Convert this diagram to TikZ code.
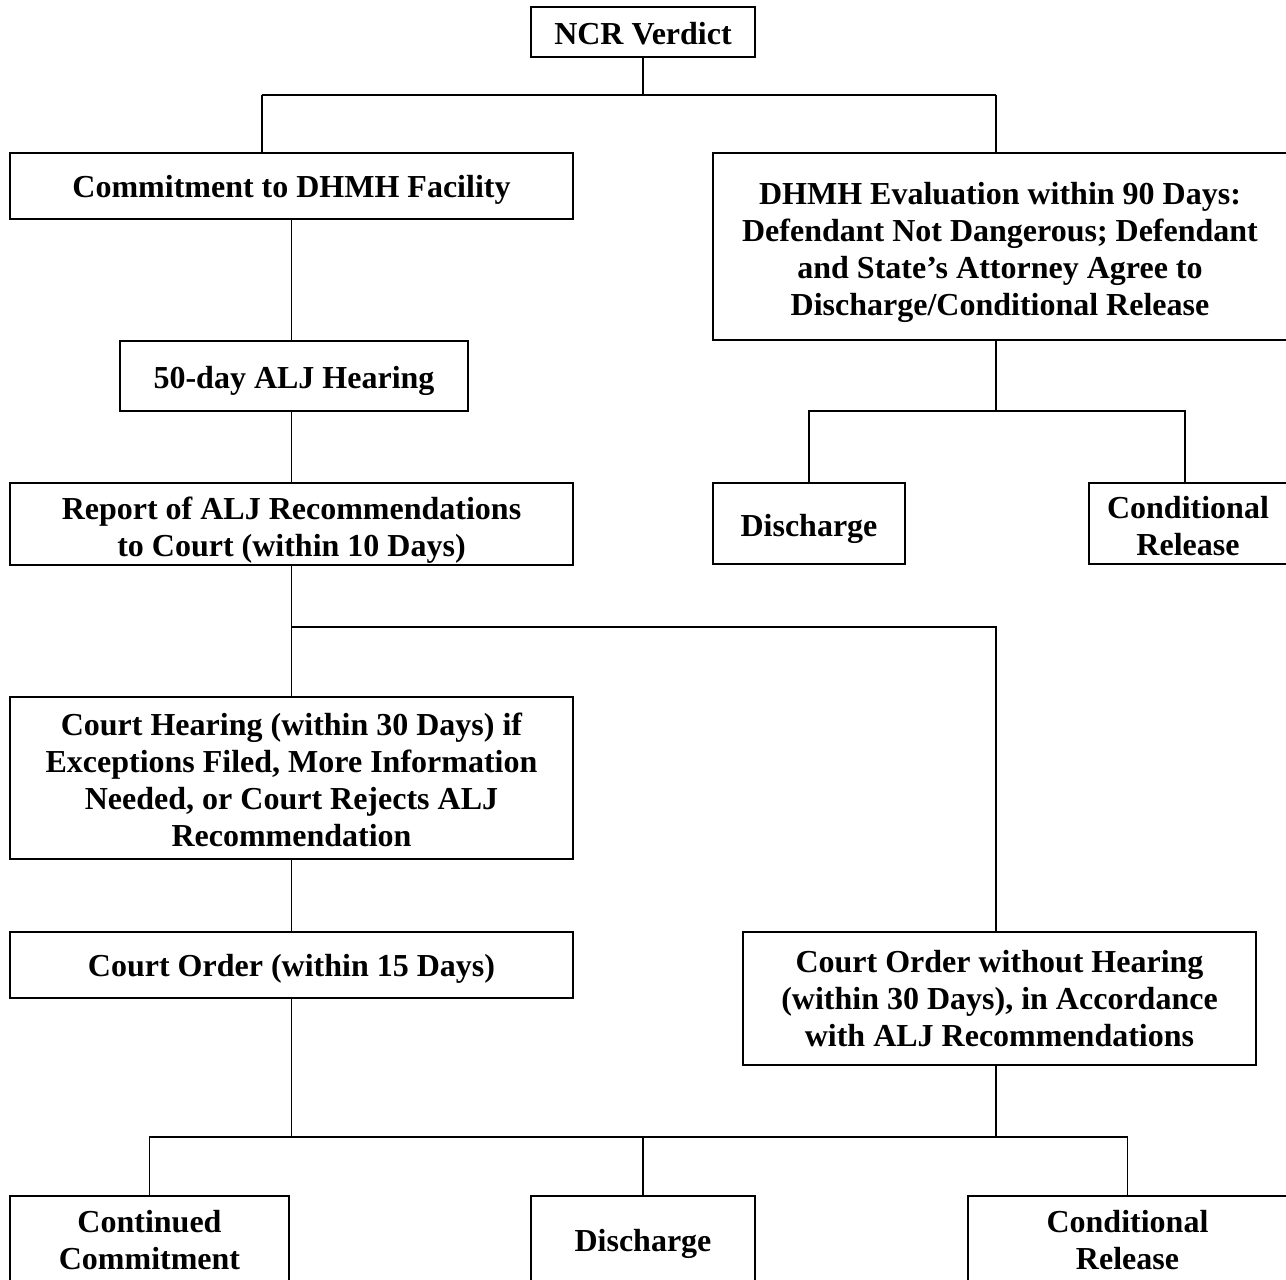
\documentclass[tikz,border=0pt]{standalone}
\usepackage{fontspec}
\setmainfont{Liberation Serif}
% framed box: name, x, y, width, height, text drop, text
\newcommand\flowbox[7]{%
  \node[frame, minimum width=#4pt, minimum height=#5pt] (#1) at (#2,#3) {};
  \node[txt] (#1-t) at ([yshift=-#6pt]#1.center) {#7};}
\begin{document}
\begin{tikzpicture}[x=1pt,y=-1pt,
  frame/.style={draw, line width=2pt, inner sep=0pt},
  txt/.style={align=center, inner sep=0pt,
    font=\fontsize{32}{37}\selectfont\bfseries},
  link/.style={line width=1.4pt}]
\useasboundingbox (0,0) rectangle (1286,1280);
\clip (0,0) rectangle (1286,1280);

% boxes
\flowbox{ncr}{643}{32}{224}{50}{2}{NCR Verdict}
\flowbox{commit}{291.5}{186}{563}{66}{4}{Commitment to DHMH Facility}
\flowbox{dhmh}{1000}{246.5}{574}{187}{5.5}
  {DHMH Evaluation within 90 Days:\\Defendant Not Dangerous; Defendant\\and State’s Attorney Agree to\\Discharge/Conditional Release}
\flowbox{alj}{294}{376}{348}{70}{5}{50-day ALJ Hearing}
\flowbox{report}{291.5}{524}{563}{82}{6}
  {\fontsize{32}{39}\selectfont Report of ALJ Recommendations\\to Court (within 10 Days)}
\flowbox{disA}{809}{523.5}{192}{81}{5}{Discharge}
\flowbox{relA}{1188}{523.5}{198}{81}{3}{Conditional\\Release}
\flowbox{hearing}{291.5}{778}{563}{162}{1.5}
  {Court Hearing (within 30 Days) if\\Exceptions Filed, More Information\\Needed, or Court Rejects ALJ\\Recommendation}
\flowbox{orderA}{291.5}{965}{563}{66}{4}{Court Order (within 15 Days)}
\flowbox{orderB}{999.5}{998.5}{513}{133}{0.5}
  {Court Order without Hearing\\(within 30 Days), in Accordance\\with ALJ Recommendations}
\flowbox{cont}{149.5}{1240}{279}{88}{0.5}{Continued\\Commitment}
\flowbox{disB}{643}{1240}{224}{88}{4}{Discharge}
\flowbox{relB}{1127.5}{1240}{319}{88}{0.5}{Conditional\\Release}

% junction points
\coordinate (j0) at (643,95);
\coordinate (jl) at (262,95);
\coordinate (jr) at (996,95);
\coordinate (jd) at (996,411);
\coordinate (jh) at (291.5,627);
\coordinate (jo) at (996,627);
\coordinate (jb) at (291.5,1137);
\coordinate (jc) at (996,1137);

% connectors
\draw[link] (ncr.south) -- (j0);
\draw[link] (jl) -- (jr);
\draw[link] (jl) -- (jl |- commit.north);
\draw[link] (jr) -- (jr |- dhmh.north);

\draw[link] (commit.south) -- (commit.south |- alj.north);
\draw[link] (report.north |- alj.south) -- (report.north);

\draw[link] (jd |- dhmh.south) -- (jd);
\draw[link] (disA.north) -- (disA.north |- jd) -- ([xshift=-3pt]relA.north |- jd) -- ([xshift=-3pt]relA.north);

\draw[link] (report.south) -- (hearing.north);
\draw[link] (jh) -- (jo) -- (jo |- orderB.north);

\draw[link] (hearing.south) -- (orderA.north);
\draw[link] (orderA.south) -- (jb);
\draw[link] (jc |- orderB.south) -- (jc);
\draw[link] (cont.north) -- (cont.north |- jb) -- (relB.north |- jb) -- (relB.north);
\draw[link] (disB.north) -- (disB.north |- jb);
\end{tikzpicture}
\end{document}
